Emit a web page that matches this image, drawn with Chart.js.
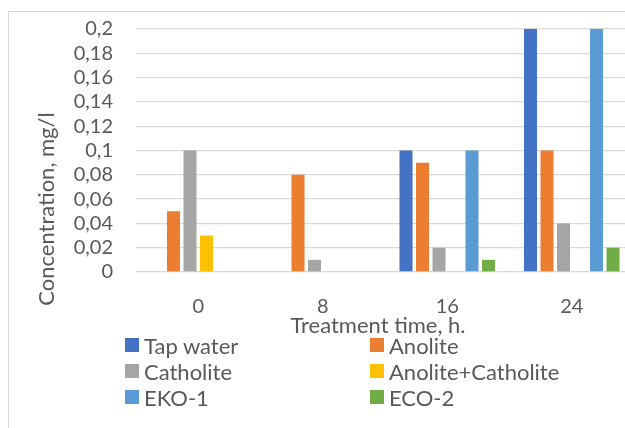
<!DOCTYPE html>
<html>
<head>
<meta charset="utf-8">
<script src="https://cdn.jsdelivr.net/npm/chart.js@4.4.1/dist/chart.umd.min.js"></script>
<style>
  html, body { margin:0; padding:0; background:#fff; overflow:hidden; width:625px; height:428px; }
  #frame { position:absolute; left:8px; top:11px; width:700px; height:500px; border:1px solid #d9d9d9; box-sizing:border-box; }
  #wrap { position:absolute; left:0; top:0; width:660px; height:345px; }
  #legend { position:absolute; left:125px; top:332px; display:grid; grid-template-columns:245px 245px;
            font-family:Lato, sans-serif; font-size:22px; color:#595959; }
  #legend .item { display:flex; align-items:center; height:26px; }
  #legend .box { width:14px; height:14px; margin-right:5px; }
</style>
</head>
<body>
<div id="frame"></div>
<div id="wrap"><canvas id="chart"></canvas></div>
<div id="legend"></div>
<script>
// ============ DATA ============
const categories  = ['0', '8', '16', '24'];
const seriesNames = ['Tap water', 'Anolite', 'Catholite', 'Anolite+Catholite', 'EKO-1', 'ECO-2'];
const seriesColors = ['#4472C4', '#ED7D31', '#A5A5A5', '#FFC000', '#5B9BD5', '#70AD47'];
const tapWater        = [0,    0,    0.1,  0.2];
const anoliteVals     = [0.05, 0.08, 0.09, 0.1];
const catholiteVals   = [0.1,  0.01, 0.02, 0.04];
const anoCathVals     = [0.03, 0,    0,    0];
const eko1Vals        = [0,    0,    0.1,  0.2];
const eco2Vals        = [0,    0,    0.01, 0.02];
const yMin = 0, yMax = 0.2, yStep = 0.02;
const xTitle = 'Treatment time, h.';
const yTitle = 'Concentration, mg/l';

const seriesValues = [tapWater, anoliteVals, catholiteVals, anoCathVals, eko1Vals, eco2Vals];
const TEXT = '#595959';
const FONT = 'Lato, sans-serif';

// axis titles drawn where the original puts them
const axisTitles = {
  id: 'axisTitles',
  afterDraw(chart) {
    const ctx = chart.ctx, a = chart.chartArea;
    ctx.save();
    ctx.fillStyle = TEXT;
    ctx.font = '22px ' + FONT;
    ctx.textAlign = 'center';
    ctx.textBaseline = 'middle';
    ctx.fillText(xTitle, (a.left + a.right) / 2 - 7, a.bottom + 54);
    ctx.translate(47, a.bottom - 63);
    ctx.rotate(-Math.PI / 2);
    ctx.fillText(yTitle, 0, 0);
    ctx.restore();
  }
};

function fmt(v) {
  return String(parseFloat(v.toFixed(2))).replace('.', ',');
}

const chart = new Chart(document.getElementById('chart'), {
  type: 'bar',
  data: {
    labels: categories,
    datasets: seriesNames.map((n, i) => ({
      label: n, data: seriesValues[i], backgroundColor: seriesColors[i],
      borderWidth: 0, categoryPercentage: 0.795, barPercentage: 0.79
    }))
  },
  options: {
    responsive: true, maintainAspectRatio: false, animation: false,
    layout: { padding: { top: 29, right: 26, left: 0, bottom: 0 } },
    plugins: { legend: { display: false }, tooltip: { enabled: false } },
    scales: {
      x: {
        grid: { display: false }, border: { display: false },
        ticks: { color: TEXT, font: { family: FONT, size: 20 }, padding: 15 },
        afterFit(s) { s.height = 73; }
      },
      y: {
        min: yMin, max: yMax,
        grid: { color: '#d9d9d9', lineWidth: 1.3, drawTicks: false }, border: { display: false },
        // small lineHeight so the tick padding doesn't push the plot top down
        ticks: { stepSize: yStep, autoSkip: false, color: TEXT, font: { family: FONT, size: 20, lineHeight: 0.5 }, padding: 23, callback: v => fmt(v) },
        afterFit(s) { s.width = 136; }
      }
    }
  },
  plugins: [axisTitles]
});

// two-column legend as in the original
document.getElementById('legend').innerHTML = seriesNames.map((n, i) =>
  `<div class="item"><span class="box" style="background:${seriesColors[i]}"></span>${n}</div>`).join('');
</script>
</body>
</html>
